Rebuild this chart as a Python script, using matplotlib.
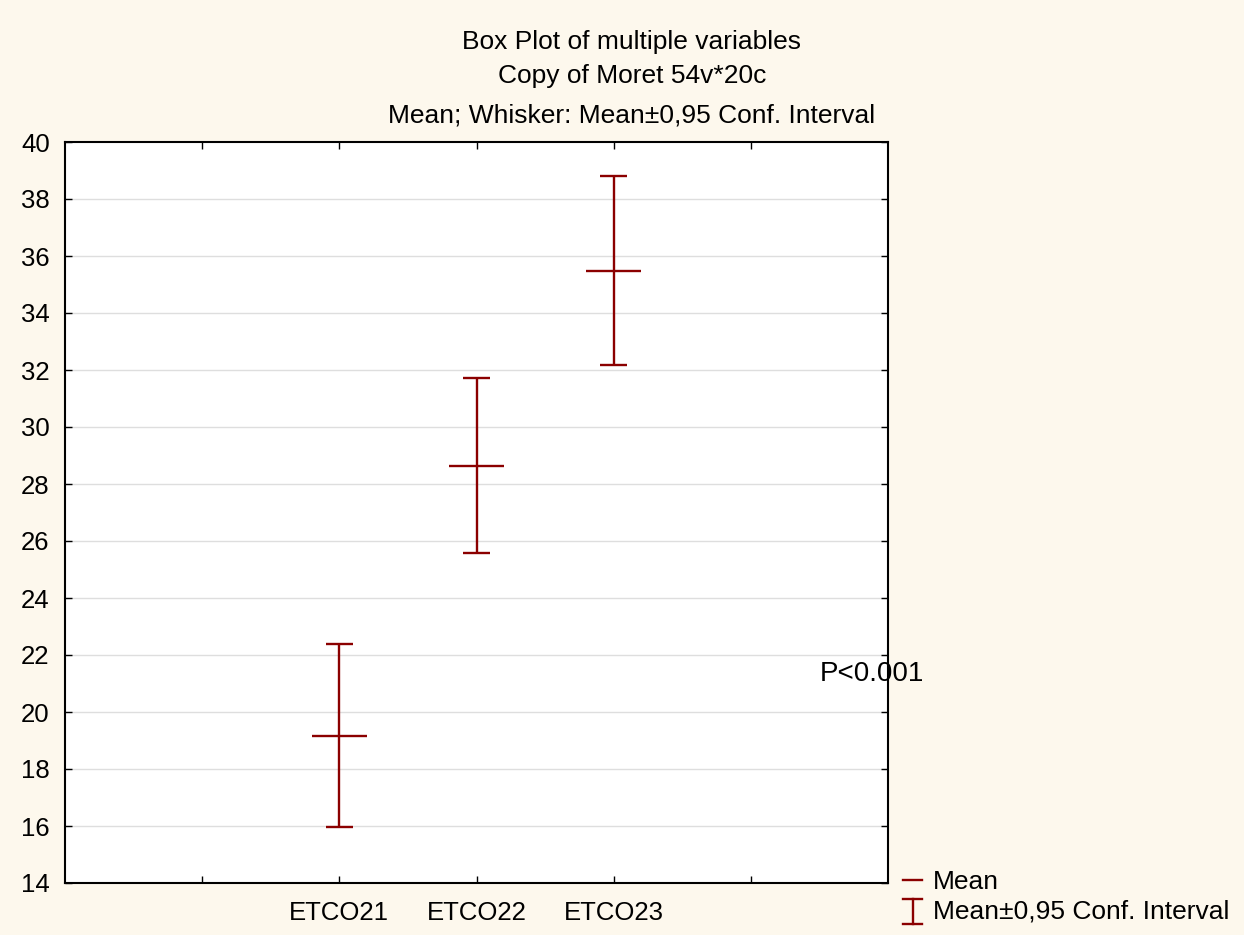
import matplotlib
matplotlib.use("Agg")
import matplotlib.pyplot as plt
from matplotlib.lines import Line2D

plt.rcParams['font.family'] = ['Liberation Sans', 'DejaVu Sans']

# Data: means and 95% confidence limits
variables = ["ETCO21", "ETCO22", "ETCO23"]
means = [19.17, 28.64, 35.49]
ci_low = [15.98, 25.57, 32.17]
ci_high = [22.37, 31.71, 38.81]
positions = [2, 3, 4]

y_ticks = [14, 16, 18, 20, 22, 24, 26, 28, 30, 32, 34, 36, 38, 40]
x_ticks = [1, 2, 3, 4, 5]
x_tick_labels = ["", "ETCO21", "ETCO22", "ETCO23", ""]

red = "#8B0000"
bg = "#FDF8ED"

fig = plt.figure(figsize=(12.44, 9.35), dpi=100, facecolor=bg)
ax = fig.add_axes([65 / 1244, 1 - 883 / 935, (888 - 65) / 1244, (883 - 142) / 935])
ax.set_facecolor("white")

ax.set_xlim(0, 6)
ax.set_ylim(14, 40)
ax.set_yticks(y_ticks)
ax.set_xticks(x_ticks)
ax.set_xticklabels(x_tick_labels)

for y in y_ticks[1:-1]:
    ax.axhline(y, color="#dedede", lw=1.0, zorder=1)

# whiskers with caps
for x, lo, hi in zip(positions, ci_low, ci_high):
    ax.vlines(x, lo, hi, color=red, lw=1.7, zorder=3)
    ax.hlines([lo, hi], x - 0.1, x + 0.1, color=red, lw=1.7, zorder=3)
# mean markers
for x, m in zip(positions, means):
    ax.hlines(m, x - 0.2, x + 0.2, color=red, lw=1.7, zorder=3)

ax.tick_params(direction="in", length=5, width=1, top=True, right=True,
               labelsize=18.5, colors="black")
ax.tick_params(axis="y", pad=11)
ax.tick_params(axis="x", pad=13)
for s in ax.spines.values():
    s.set_linewidth(1.5)
    s.set_zorder(4)

ax.text(5.5, 21.35, "P<0.001", fontsize=20, va="center", ha="left",
        clip_on=False, zorder=2)

# titles
fig.text(632 / 1244, 1 - 42 / 935, "Box Plot of multiple variables",
         ha="center", va="center", fontsize=19)
fig.text(632 / 1244, 1 - 76 / 935, "Copy of Moret 54v*20c",
         ha="center", va="center", fontsize=19)
fig.text(632 / 1244, 1 - 115 / 935, "Mean; Whisker: Mean\u00b10,95 Conf. Interval",
         ha="center", va="center", fontsize=19)

# legend
def fx(px):
    return px / 1244

def fy(py):
    return 1 - py / 935

fig.add_artist(Line2D([fx(903), fx(922)], [fy(880), fy(880)], color=red, lw=1.7))
fig.add_artist(Line2D([fx(912.5), fx(912.5)], [fy(899), fy(924)], color=red, lw=1.7))
fig.add_artist(Line2D([fx(903), fx(922)], [fy(899), fy(899)], color=red, lw=1.7))
fig.add_artist(Line2D([fx(903), fx(922)], [fy(924), fy(924)], color=red, lw=1.7))
fig.text(fx(933), fy(882), "Mean", ha="left", va="center", fontsize=19)
fig.text(fx(933), fy(912), "Mean\u00b10,95 Conf. Interval", ha="left", va="center", fontsize=19)

fig.savefig("out.png", dpi=100, facecolor=bg)
